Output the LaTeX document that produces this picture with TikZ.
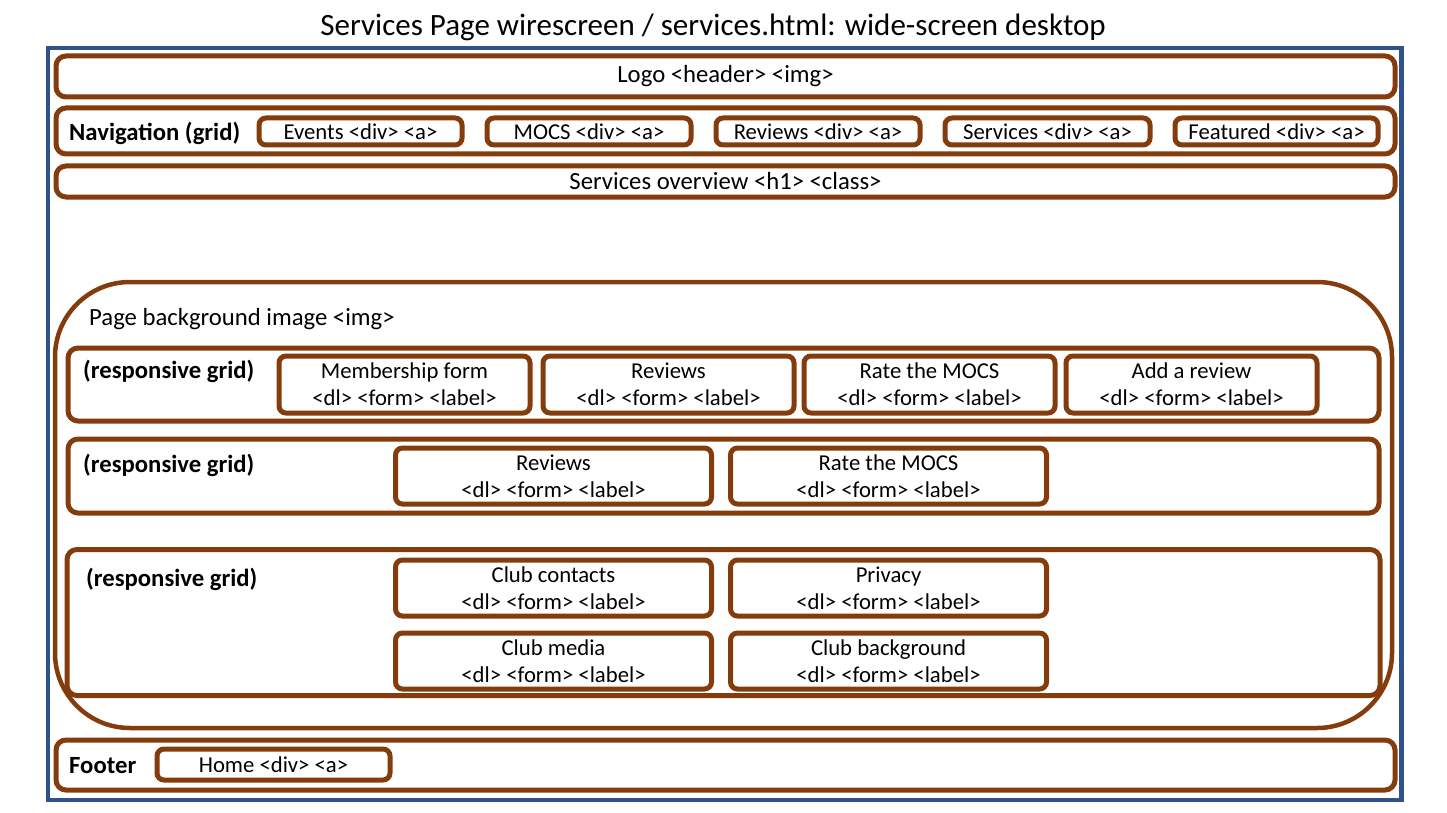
\documentclass[tikz,border=0pt]{standalone}
\usepackage{fontspec}
\setmainfont{Carlito}
\usepackage{xcolor}
\usepackage{tikz}
\usetikzlibrary{positioning}
\definecolor{wireBrown}{HTML}{843C0C}
\definecolor{wireBlue}{HTML}{2F528F}
\newcommand{\bodyfont}{\fontsize{24.7}{27}\selectfont}
\newcommand{\slotfont}{\fontsize{22.7}{27}\selectfont}
\newcommand{\titlefont}{\fontsize{31}{35}\selectfont}

\begin{document}
\begin{tikzpicture}[x=1pt, y=-1pt,
		every node/.style={font=\bodyfont, inner sep=0pt, align=center},
		screen/.style={draw=wireBlue, line width=4.5pt, rectangle},
		band/.style={draw=wireBrown, line width=5pt, rectangle, rounded corners=10pt},
		slot/.style={draw=wireBrown, line width=5pt, rectangle, rounded corners=7pt, font=\slotfont},
		gridlabel/.style={anchor=west, font=\bodyfont\bfseries}]
			\useasboundingbox (0,0) rectangle (1447,813);
			\node[font=\titlefont] (title) at (713,27.5) {Services Page wirescreen / services.html: wide-screen desktop};
			\node[screen, minimum width=1353.5pt, minimum height=752pt] (frame) at (724.75,424) {};
			
			\node[band, minimum width=1339pt, minimum height=41pt] (logo) at (725.5,76.5) {Logo <header> <img>};
			\node[band, minimum width=1339pt, minimum height=46pt] (nav) at (725.5,131) {};
			\node[gridlabel] (navLabel) at (69,133) {Navigation (grid)};
			\foreach \cx/\w/\txt[count = \iNav] in {360.5/203/Events, 589/204/MOCS, 818/204/Reviews, 1047.5/205/Services, 1276.5/203/Featured}
			{
				\node[slot, minimum width=\w pt, minimum height=27pt] (nav\iNav) at (\cx,131.5){\txt\ <div> <a>};
			}
			\node[band, minimum width=1339pt, minimum height=31pt] (overview) at (725.5,181.5) {Services overview <h1> <class>};
			
			\node[draw=wireBrown, line width=4.5pt, rectangle, rounded corners=75pt, minimum width=1337pt, minimum height=446pt] (bg) at (723.5,505) {};
			\node[anchor=west] (bgLabel) at (89,319) {Page background image <img>};
			
			\node[band, minimum width=1311pt, minimum height=73pt] (row1) at (723.5,384.5) {};
			\node[band, minimum width=1311pt, minimum height=74pt] (row2) at (723.5,476) {};
			\node[band, minimum width=1313pt, minimum height=146pt] (row3) at (723.5,622.5) {};
			\node[gridlabel] (row1Label) at (83,371) {(responsive grid)};
			\node[gridlabel] (row2Label) at (83,465) {(responsive grid)};
			\node[gridlabel] (row3Label) at (86,579) {(responsive grid)};
			\foreach \cx/\w/\txt[count = \iItem] in {404.5/251/Membership form, 668.5/251/Reviews, 929.5/251/Rate the MOCS, 1191.5/251/Add a review}
			{
				\node[slot, minimum width=\w pt, minimum height=57pt] (item\iItem) at (\cx,384.5){\txt\\<dl> <form> <label>};
			}
			\foreach \cx/\cy/\txt[count = \iForm, evaluate=\iForm as \iName using int(\iForm + 4)] in {553.5/476/Reviews, 888.5/476/Rate the MOCS, 553.5/588/Club contacts, 888.5/588/Privacy, 553.5/661/Club media, 888.5/661/Club background}
			{
				\node[slot, minimum width=316pt, minimum height=56pt] (item\iName) at (\cx,\cy){\txt\\<dl> <form> <label>};
			}
			
			\node[band, minimum width=1339pt, minimum height=50pt] (footer) at (725.5,765) {};
			\node[gridlabel] (footerLabel) at (69,766) {Footer};
			\node[slot, minimum width=233pt, minimum height=31pt] (home) at (273.5,764.5) {Home <div> <a>};
		\end{tikzpicture}
\end{document}
